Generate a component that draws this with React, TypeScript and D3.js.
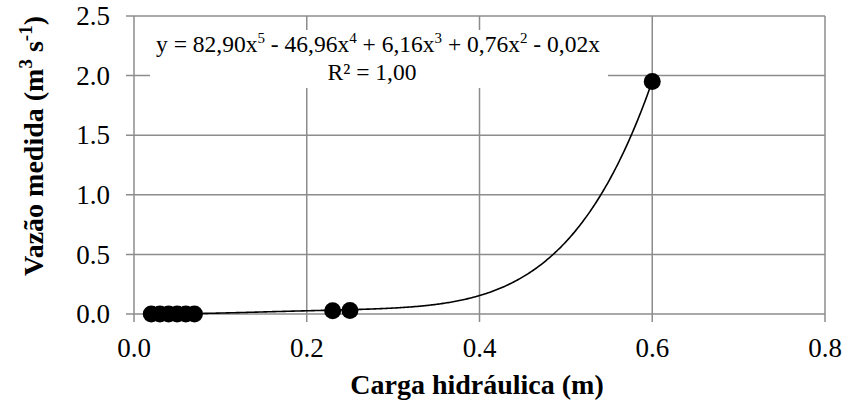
import React from "react";
import * as d3 from "d3";

const xValues = [0.02, 0.03, 0.04, 0.05, 0.06, 0.07, 0.23, 0.25, 0.6];
const yValues = [0.0, 0.0, 0.0, 0.0, 0.0, 0.0, 0.027, 0.03, 1.95];
// trendline coefficients for x^5, x^4, x^3, x^2, x^1
const trendCoefs = [82.9, -46.96, 6.16, 0.76, -0.02];
const xTicks = [0, 0.2, 0.4, 0.6, 0.8];
const yTicks = [0, 0.5, 1.0, 1.5, 2.0, 2.5];

const W = 846;
const H = 405;
const left = 134;
const right = 825;
const top = 16;
const bottom = 314;

const font = "Liberation Serif, Times New Roman, serif";
const ts = (size: number, bold = false) => ({
  fontFamily: font,
  fontSize: size,
  fontWeight: bold ? ("bold" as const) : ("normal" as const),
});

export default function App() {
  const x = d3.scaleLinear().domain([0, 0.8]).range([left, right]);
  const y = d3.scaleLinear().domain([0, 2.5]).range([bottom, top]);
  const poly = (v: number) =>
    trendCoefs.reduce((s, c, i) => s + c * Math.pow(v, 5 - i), 0);
  const xs = d3.range(0, 401).map((i) => 0.02 + ((0.6 - 0.02) * i) / 400);
  const line = d3
    .line<number>()
    .x((d) => x(d))
    .y((d) => y(poly(d)));
  const grid = "#8c8c8c";
  const eqS = 23.5;
  const sup = 15;
  const up = 9;
  const tS = 28;
  const tSup = 19;
  const tUp = 11;
  return (
    <div style={{ position: "absolute", left: 0, top: 0 }}>
      <svg width={W} height={H} style={{ display: "block", background: "#fff" }}>
        {yTicks.map((t) => (
          <g key={"y" + t}>
            <line x1={left - 8} x2={right} y1={y(t)} y2={y(t)} stroke={grid} strokeWidth={1.5} />
            <text x={110} y={y(t)} dy="0.34em" textAnchor="end" style={ts(27)}>
              {t.toFixed(1)}
            </text>
          </g>
        ))}
        {xTicks.map((t) => (
          <g key={"x" + t}>
            <line x1={x(t)} x2={x(t)} y1={top} y2={bottom + 8} stroke={grid} strokeWidth={1.5} />
            <text x={x(t)} y={357} textAnchor="middle" style={ts(27)}>
              {t.toFixed(1)}
            </text>
          </g>
        ))}
        <path d={line(xs) || ""} fill="none" stroke="#000" strokeWidth={1.6} />
        {xValues.map((v, i) => (
          <circle key={i} cx={x(v)} cy={y(yValues[i])} r={8.5} fill="#000" />
        ))}
        <rect x={150} y={30} width={458} height={58} fill="#fff" />
        <text x={378} y={52} textAnchor="middle" style={ts(eqS)}>
          y = 82,90x<tspan dy={-up} style={{ fontSize: sup }}>5</tspan>
          <tspan dy={up}> - 46,96x</tspan>
          <tspan dy={-up} style={{ fontSize: sup }}>4</tspan>
          <tspan dy={up}> + 6,16x</tspan>
          <tspan dy={-up} style={{ fontSize: sup }}>3</tspan>
          <tspan dy={up}> + 0,76x</tspan>
          <tspan dy={-up} style={{ fontSize: sup }}>2</tspan>
          <tspan dy={up}> - 0,02x</tspan>
        </text>
        <text x={372} y={80} textAnchor="middle" style={ts(eqS)}>
          R² = 1,00
        </text>
        <text x={477} y={394} textAnchor="middle" style={ts(tS, true)}>
          Carga hidráulica (m)
        </text>
        <text
          transform={`translate(43, 146) rotate(-90)`}
          textAnchor="middle"
          style={ts(tS, true)}
        >
          Vazão medida (m<tspan dy={-tUp} style={{ fontSize: tSup }}>3</tspan>
          <tspan dy={tUp}> s</tspan>
          <tspan dy={-tUp} style={{ fontSize: tSup }}>-1</tspan>
          <tspan dy={tUp}>)</tspan>
        </text>
      </svg>
    </div>
  );
}
